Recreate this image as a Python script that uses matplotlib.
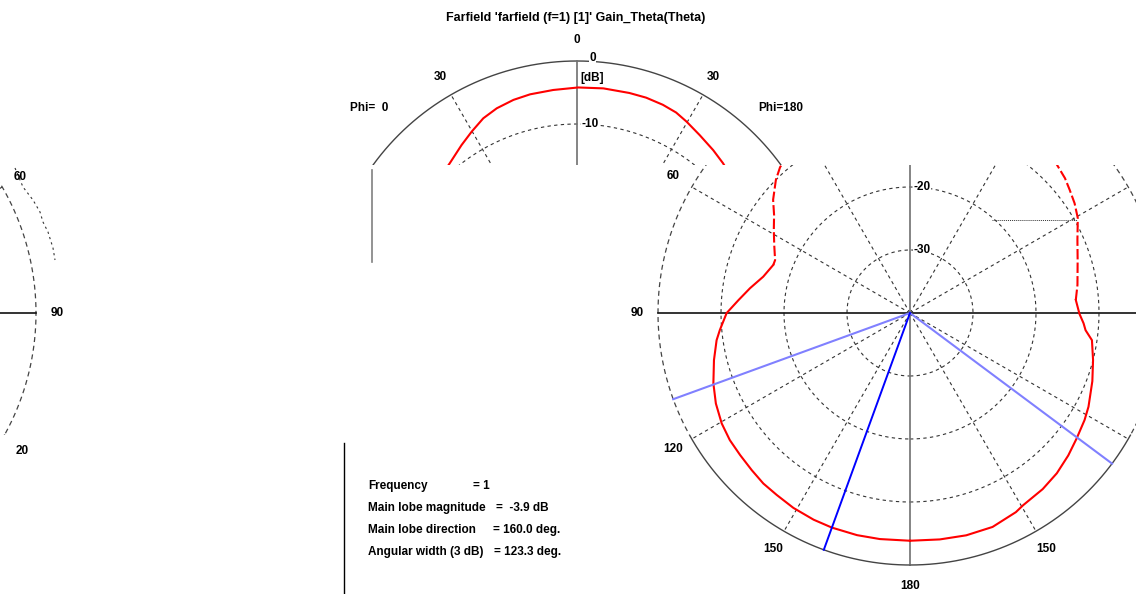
"""Farfield gain plot (polar, dB)"""
import numpy as np
import matplotlib.pyplot as plt
from matplotlib.patches import Rectangle

plt.rcParams['font.family'] = ['Liberation Sans', 'DejaVu Sans']
plt.rcParams['font.weight'] = 'bold'
plt.rcParams['font.size'] = 8.5

W, H = 1136, 594
R = 252          # radius of the 0 dB ring in pixels
PT = 72 / 100    # points per pixel

# Gain_Theta: screen angle (deg, + = Phi=0 side, - = Phi=180 side) and gain (dB)
theta_deg = [-180, -172.5, -165.8, -158.9, -152, -149.5, -143, -137.5, -132, -126.9,
             -121.5, -117.7, -110.5, -104.4, -98.5, -95.6, -93.4, -90.3, -85.5, -80.5,
             -72.5, -66.4, -60.5, -56.3, -52.4, -49, -44.3, -39.9, -34.6, -29.8,
             -26.3, -22.4, -17.8, -13.4, -6.7, -0.3, 6.1, 12.1, 16.6, 21.4,
             25.7, 30.1, 34.5, 40.3, 41.7, 45.2, 50.4, 54.2, 58.7, 63.4,
             68.6, 70.6, 76.1, 81.2, 85.7, 90, 95.1, 98, 103.5, 109.7,
             115, 120.4, 125.2, 129.9, 134.8, 139.3, 143.8, 149.1, 155, 160,
             166.6, 172.4, 180]
gain_db = [-3.85, -3.75, -3.6, -3.6, -4.2, -4.6, -5.0, -5.5, -6.2, -6.9,
           -7.5, -8.0, -9.1, -10.0, -10.8, -12.0, -12.4, -13.1, -13.6, -13.05,
           -12.1, -11.0, -9.4, -8.6, -8.0, -7.4, -6.8, -6.3, -5.7, -5.0,
           -4.5, -4.25, -4.1, -4.1, -4.1, -4.2, -4.4, -4.5, -4.7, -5.1,
           -5.7, -6.7, -7.65, -8.8, -9.0, -10.0, -11.8, -13.4, -14.7, -15.9,
           -17.0, -17.0, -16.0, -14.3, -12.7, -10.9, -9.7, -9.0, -8.0, -6.85,
           -6.0, -5.35, -5.0, -4.85, -4.6, -4.3, -4.2, -3.95, -3.8, -3.75,
           -3.75, -3.8, -3.85]

rings_db = [-30, -20, -10]
spokes_deg = [30, 60, 120, 150, -30, -60, -120, -150]
main_dir = 160.0
beam_edges = [110.0, 233.3]

tick_angle = [0, 30, 60, 90, 120, 150, 180, -150, -120, -90, -60, -30]
tick_text = ['0', '30', '60', '90', '120', '150', '180', '150', '120', '90', '60', '30']

title = "Farfield 'farfield (f=1) [1]' Gain_Theta(Theta)"
info_names = ['Frequency', 'Main lobe magnitude', 'Main lobe direction', 'Angular width (3 dB)']
info_values = ['= 1', '=  -3.9 dB', '= 160.0 deg.', '= 123.3 deg.']

# leftover scraps of the screen capture
stray_x = [15, 23, 33, 40, 43, 48, 53, 55]
stray_y = [168, 187, 200, 212, 222, 232, 248, 260]

fig = plt.figure(figsize=(W / 100, H / 100), dpi=100)
canvas = fig.add_axes([0, 0, 1, 1])
canvas.set_xlim(0, W)
canvas.set_ylim(H, 0)
canvas.axis('off')

GRID = '#333333'
th = np.deg2rad(theta_deg)
g = np.array(gain_db)
tdeg = np.array(theta_deg)


def draw_copy(cx, cy, clip_box, ticks, db_labels, outer_solid_from, split_red):
    ax = fig.add_axes([(cx - R) / W, (H - cy - R) / H, 2 * R / W, 2 * R / H],
                      projection='polar')
    ax.set_theta_zero_location('N')
    ax.set_theta_direction(1)
    ax.set_ylim(-40, 0)
    ax.axis('off')

    full = np.linspace(-np.pi, np.pi, 721)
    fdeg = np.rad2deg(full)
    for db in rings_db:
        ax.plot(full, np.full_like(full, db), color=GRID, lw=0.8, ls=(0, (3, 3)))
    solid = np.abs(fdeg) >= outer_solid_from
    ax.plot(full, np.where(solid, 0, np.nan), color='#444444', lw=1)
    ax.plot(full, np.where(~solid, 0, np.nan), color='#444444', lw=0.9, ls=(0, (4, 3)))

    for a in spokes_deg:
        ax.plot([np.deg2rad(a)] * 2, [-40, 0], color=GRID, lw=0.8, ls=(0, (3, 3)))
    ax.plot([np.pi / 2] * 2, [0, -40], color='#111111', lw=1.2)
    ax.plot([-np.pi / 2] * 2, [-40, 0], color='#111111', lw=1.2)
    ax.plot([0, 0], [-40, 0], color='#707070', lw=1.2)
    ax.plot([np.pi, np.pi], [-40, 0], color='#707070', lw=1.2)

    if split_red:
        glitch = (tdeg >= -85.5) & (tdeg <= 70.6)
        normal = (tdeg <= -85.5) | (tdeg >= 70.6)
        ax.plot(th, np.where(normal, g, np.nan), color='red', lw=1.5)
        ax.plot(th, np.where(glitch, g, np.nan), color='red', lw=1.5, ls=(0, (5, 1.5)))
    else:
        ax.plot(th, g, color='red', lw=1.5)

    for a in beam_edges:
        ax.plot([np.deg2rad(a)] * 2, [-40, 0], color='#8080ff', lw=1.5)
    ax.plot([np.deg2rad(main_dir)] * 2, [-40, 0], color='#0000ff', lw=1.4)

    clip = Rectangle(clip_box[:2], clip_box[2], clip_box[3], transform=canvas.transData)
    for ln in ax.lines:
        ln.set_clip_path(clip)

    r_lab = 273 / R * 40 - 40
    for a, s in zip(tick_angle, tick_text):
        if a in ticks:
            ax.text(np.deg2rad(a), r_lab, s, ha='center', va='center')
    for s, db, off in db_labels:
        ax.annotate(s, xy=(0, db), xytext=off, textcoords='offset points',
                    ha='left', va='center',
                    bbox=dict(fc='white', ec='none', pad=0.3))
    return ax


# upper part of the plot (shifted copy)
draw_copy(577, 313, (340, 0, 470, 165), [0, 30, -30],
          [('0', 0, (12 * PT, 3 * PT)), ('[dB]', -2.7, (3 * PT, 0)), ('-10', -10, (4 * PT, 0))],
          0, False)
# lower part of the plot
draw_copy(910, 313, (600, 165, 536, 429), [60, 90, 120, 150, 180, -150],
          [('-20', -20, (3 * PT, 0)), ('-30', -30, (3 * PT, 0))],
          119, True)
# right edge of a third copy at the left border
draw_copy(-216, 313, (0, 165, 70, 270), [-60, -90], [], 119, True)

canvas.text(576, 18, title, ha='center', va='center', fontsize=9)
canvas.text(350, 108, 'Phi=  0', ha='left', va='center')
canvas.text(758, 108, 'Phi=180', ha='left', va='center')
canvas.text(22, 451, '20', ha='center', va='center')

canvas.plot(stray_x, stray_y, color=GRID, lw=0.8, ls=(0, (2, 3)))
canvas.plot([372, 372], [170, 262], color='#808080', lw=1.2)
canvas.plot([992, 1077], [220, 220], color=GRID, lw=0.7, ls=(0, (1, 1)))

# info box
canvas.plot([344, 344], [443, 594], color='black', lw=1)
value_x = [473, 496, 493, 494]
for i, (name, val) in enumerate(zip(info_names, info_values)):
    y = 486 + 22 * i
    canvas.text(368, y, name, ha='left', va='center')
    canvas.text(value_x[i], y, val, ha='left', va='center')

plt.savefig('out.png', dpi=100)
